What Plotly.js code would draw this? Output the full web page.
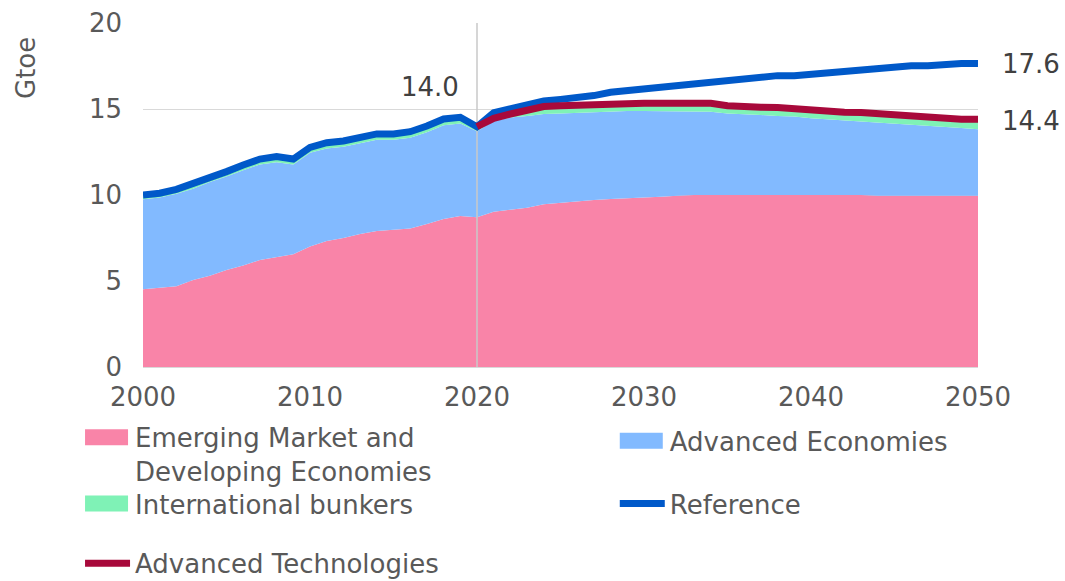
<!DOCTYPE html>
<html>
<head>
<meta charset="utf-8">
<script src="https://cdn.plot.ly/plotly-3.0.1.min.js"></script>
<style>html,body{margin:0;padding:0;background:#fff;}#chart{width:1065px;height:581px;}</style>
</head>
<body>
<div id="chart"></div>
<script>
const years = [2000,2001,2002,2003,2004,2005,2006,2007,2008,2009,2010,2011,2012,2013,2014,2015,2016,2017,2018,2019,2020,2021,2022,2023,2024,2025,2026,2027,2028,2029,2030,2031,2032,2033,2034,2035,2036,2037,2038,2039,2040,2041,2042,2043,2044,2045,2046,2047,2048,2049,2050];

const emde = [4.52,4.60,4.70,5.06,5.30,5.64,5.90,6.22,6.40,6.55,7.00,7.33,7.50,7.73,7.90,7.97,8.05,8.31,8.60,8.78,8.70,
  9.03,9.13,9.26,9.46,9.55,9.61,9.71,9.77,9.80,9.86,9.90,9.95,10.00,10.00,10.00,10.00,10.00,10.00,10.00,10.00,10.00,10.00,10.00,9.95,9.95,9.95,9.95,9.95,9.95,9.95];

const advancedEconomies = [5.23,5.25,5.37,5.31,5.45,5.43,5.54,5.56,5.51,5.23,5.45,5.38,5.31,5.28,5.31,5.24,5.28,5.34,5.45,5.37,5.01,
  5.27,5.37,5.34,5.25,5.19,5.17,5.09,5.11,5.08,5.02,4.98,4.93,4.88,4.84,4.74,4.71,4.65,4.60,4.57,4.46,4.40,4.33,4.27,4.26,4.22,4.17,4.09,4.03,3.95,3.87];

const bunkers = [0.25,0.25,0.26,0.27,0.28,0.29,0.30,0.31,0.32,0.31,0.32,0.33,0.33,0.34,0.34,0.34,0.35,0.36,0.37,0.37,0.26,
  0.25,0.30,0.36,0.40,0.42,0.43,0.44,0.45,0.45,0.45,0.45,0.45,0.45,0.46,0.46,0.47,0.47,0.48,0.48,0.49,0.49,0.50,0.50,0.51,0.52,0.52,0.53,0.53,0.54,0.55];

const reference = [10.00,10.10,10.33,10.64,11.03,11.36,11.74,12.09,12.23,12.09,12.77,13.04,13.14,13.35,13.55,13.55,13.68,14.01,14.42,14.52,13.97,
  14.79,15.04,15.27,15.47,15.56,15.66,15.78,15.97,16.07,16.16,16.26,16.35,16.45,16.55,16.65,16.74,16.84,16.94,16.94,17.03,17.13,17.23,17.33,17.33,17.42,17.52,17.52,17.61,17.65,17.64];

const atYears = [2020,2021,2022,2023,2024,2025,2026,2027,2028,2029,2030,2031,2032,2033,2034,2035,2036,2037,2038,2039,2040,2041,2042,2043,2044,2045,2046,2047,2048,2049,2050];
const advancedTech = [13.97,14.46,14.71,14.94,15.14,15.19,15.23,15.27,15.33,15.33,15.33,15.33,15.33,15.33,15.33,15.19,15.19,15.10,15.08,15.00,14.90,14.88,14.81,14.79,14.71,14.71,14.62,14.52,14.46,14.40,14.40];

const markerYear = 2020;
const yMax = 20;

const FONT = 'DejaVu Sans, Verdana, sans-serif';
const TXT = '#595959';
const PINK = '#F984A8', LBLUE = '#82BAFF', GREEN = '#7FF2B6', DBLUE = '#0059C9', RED = '#A8093B';

const traces = [
  {x: years, y: emde, name: 'Emerging Market and<br>Developing Economies', type: 'scatter', mode: 'lines',
   stackgroup: 'one', line: {width: 0, color: PINK}, fillcolor: PINK, legend: 'legend'},
  {x: years, y: advancedEconomies, name: 'Advanced Economies', type: 'scatter', mode: 'lines',
   stackgroup: 'one', line: {width: 0, color: LBLUE}, fillcolor: LBLUE, legend: 'legend2'},
  {x: years, y: bunkers, name: 'International bunkers', type: 'scatter', mode: 'lines',
   stackgroup: 'one', line: {width: 0, color: GREEN}, fillcolor: GREEN, legend: 'legend3'},
  {x: [markerYear, markerYear], y: [0, yMax], type: 'scatter', mode: 'lines', showlegend: false,
   hoverinfo: 'skip', line: {color: '#C8C8C8', width: 1.5}},
  {x: years, y: reference, name: 'Reference', type: 'scatter', mode: 'lines',
   line: {color: DBLUE, width: 7}, legend: 'legend4'},
  {x: atYears, y: advancedTech, name: 'Advanced Technologies', type: 'scatter', mode: 'lines',
   line: {color: RED, width: 7}, legend: 'legend5'}
];

const idx2020 = years.indexOf(markerYear);
const annFont = {family: FONT, size: 26, color: '#404040'};
const legFont = {family: FONT, size: 26, color: TXT};
function leg(x, y) {
  return {x: x, y: y, xanchor: 'left', yanchor: 'middle', valign: 'top',
          itemwidth: 45, font: legFont, bgcolor: 'rgba(0,0,0,0)', borderwidth: 0};
}

const layout = {
  width: 1065, height: 581,
  margin: {l: 143, r: 87, t: 23, b: 214, autoexpand: false},
  paper_bgcolor: '#fff', plot_bgcolor: '#fff',
  font: {family: FONT, size: 26, color: TXT},
  showlegend: true,
  legend: leg(-0.0754, -0.254),
  legend2: leg(0.565, -0.215),
  legend3: leg(-0.0754, -0.397),
  legend4: leg(0.565, -0.397),
  legend5: leg(-0.0754, -0.571),
  xaxis: {
    range: [2000, 2050], dtick: 10, tick0: 2000, showgrid: false, zeroline: false,
    showline: false, ticks: '', ticklabelstandoff: 12,
    tickfont: {family: FONT, size: 26, color: TXT}
  },
  yaxis: {
    range: [0, yMax], dtick: 5, showgrid: true, gridcolor: '#D9D9D9', gridwidth: 1,
    zeroline: true, zerolinecolor: '#D9D9D9', zerolinewidth: 1, showline: false, ticks: '',
    ticklabelstandoff: 20,
    tickfont: {family: FONT, size: 26, color: TXT}
  },
  annotations: [
    {xref: 'paper', yref: 'paper', x: -0.141, y: 0.87, text: 'Gtoe', textangle: -90,
     showarrow: false, font: {family: FONT, size: 26, color: TXT}, xanchor: 'center', yanchor: 'middle'},
    {x: markerYear, y: reference[idx2020], text: reference[idx2020].toFixed(1), showarrow: false,
     xanchor: 'center', yanchor: 'middle', xshift: -47, yshift: 40, font: annFont},
    {x: years[years.length - 1], y: reference[reference.length - 1], text: reference[reference.length - 1].toFixed(1),
     showarrow: false, xanchor: 'left', yanchor: 'middle', xshift: 22, font: annFont},
    {x: atYears[atYears.length - 1], y: advancedTech[advancedTech.length - 1], text: advancedTech[advancedTech.length - 1].toFixed(1),
     showarrow: false, xanchor: 'left', yanchor: 'middle', xshift: 22, yshift: -2, font: annFont}
  ]
};

Plotly.newPlot('chart', traces, layout, {displayModeBar: false, staticPlot: true}).then(function(gd) {
  // make area legend swatches into taller rectangles like the original
  gd.querySelectorAll('.legendfill path.js-fill').forEach(function(p) {
    p.setAttribute('d', 'M5,-8h43v16h-43z');
  });
});
</script>
</body>
</html>
